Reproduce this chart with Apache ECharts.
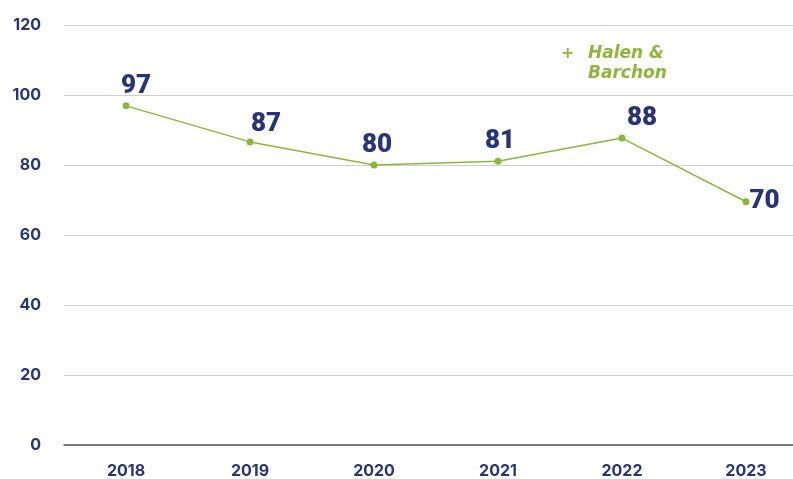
<!DOCTYPE html>
<html>
<head>
<meta charset="utf-8">
<script src="https://cdn.jsdelivr.net/npm/echarts@6/dist/echarts.min.js"></script>
<style>
  html, body { margin: 0; padding: 0; background: #fff; overflow: hidden; }
  #chart { width: 808px; height: 479px; }
</style>
</head>
<body>
<div id="chart"></div>
<script>
const years = ['2018', '2019', '2020', '2021', '2022', '2023'];
const halenBarchon = [96.9, 86.6, 80, 81.1, 87.7, 69.5];
const yTicks = [0, 20, 40, 60, 80, 100, 120];

const navy = '#26357a';
const green = '#8cb83a';

const chart = echarts.init(document.getElementById('chart'));

// label nudges, picked by eye from the reference
const nudges = [[10, 0], [16, 2], [3, 0], [2, 0], [20, 0], null];

chart.setOption({
  animation: false,
  grid: { left: 64, right: 0, top: 25, bottom: 34 },
  legend: {
    left: 551,
    top: 40,
    icon: 'none',
    itemWidth: 0,
    itemGap: 0,
    data: ['Halen & Barchon'],
    formatter: () => '{p|+}{t|Halen &}\n{p|}{t|Barchon}',
    textStyle: {
      color: green,
      rich: {
        p: {
          width: 27,
          color: green,
          fontFamily: 'DejaVu Sans',
          fontWeight: 'bold',
          fontSize: 16,
          lineHeight: 20
        },
        t: {
          color: green,
          fontFamily: 'DejaVu Sans',
          fontStyle: 'italic',
          fontWeight: 'bold',
          fontSize: 17,
          lineHeight: 20
        }
      }
    }
  },
  xAxis: {
    type: 'category',
    data: years,
    boundaryGap: true,
    axisTick: { show: false },
    axisLine: { lineStyle: { color: '#555', width: 1.5 } },
    axisLabel: {
      color: navy,
      fontFamily: 'Inter',
      fontWeight: 'bold',
      fontSize: 16,
      margin: 18
    }
  },
  yAxis: {
    type: 'value',
    min: yTicks[0],
    max: yTicks[yTicks.length - 1],
    interval: 20,
    axisLine: { show: false },
    axisTick: { show: false },
    splitLine: { lineStyle: { color: '#cfcfcf', width: 1 } },
    axisLabel: {
      color: navy,
      fontFamily: 'Inter',
      fontWeight: 'bold',
      fontSize: 16,
      margin: 23
    }
  },
  series: [
    {
      name: 'Halen & Barchon',
      type: 'line',
      data: halenBarchon.map((v, i) => {
        const item = { value: v };
        if (nudges[i]) {
          item.label = { position: 'top', offset: nudges[i] };
        } else {
          item.label = { position: 'right', distance: 0, offset: [0, 0] };
        }
        return item;
      }),
      symbol: 'circle',
      symbolSize: 7,
      lineStyle: { color: green, width: 1.5 },
      itemStyle: { color: green },
      label: {
        show: true,
        color: navy,
        fontFamily: 'Roboto',
        fontWeight: 900,
        fontSize: 26,
        distance: 3,
        formatter: p => Math.round(p.value)
      }
    }
  ]
});
</script>
</body>
</html>
